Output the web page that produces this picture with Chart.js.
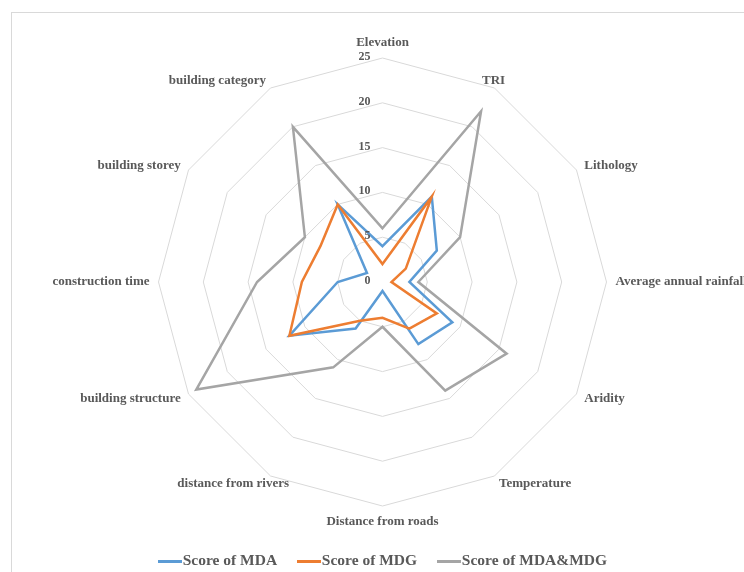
<!DOCTYPE html>
<html>
<head>
    <meta charset="UTF-8">
    <title>Score radar</title>
    <script src="https://cdn.jsdelivr.net/npm/chart.js"></script>
    <style>
        html, body { margin: 0; padding: 0; background: #fff; overflow: hidden; }
        .frame { position: absolute; left: 11px; top: 12px; width: 1000px; height: 1000px; border: 1px solid #d9d9d9; }
        .wrap { position: absolute; left: 0; top: 0; width: 772px; height: 579px; }
    </style>
</head>
<body>
    <div class="frame"></div>
    <div class="wrap"><canvas id="radar"></canvas></div>

    <script>
        // 指标名称
        const categories = ['Elevation', 'TRI', 'Lithology', 'Average annual rainfall', 'Aridity', 'Temperature',
            'Distance from roads', 'distance from rivers', 'building structure', 'construction time',
            'building storey', 'building category'];

        // 各指标得分
        const scoreMDA = [4, 11, 7, 3, 9, 8, 1, 6, 12, 5, 2, 10];
        const scoreMDG = [2, 11, 3, 1, 7, 6, 4, 5, 12, 9, 8, 10];
        const scoreBoth = [6, 22, 10, 4, 16, 14, 5, 11, 24, 14, 10, 20];

        // 径向刻度
        const tickValues = [0, 5, 10, 15, 20, 25];

        // 个别标签的水平微调(px)
        const labelShift = [0, -17, 0, 0, 0, 0, 0, 23, 0, 0, 0, 0];

        const textColor = '#595959';
        const serif = '"Liberation Serif", "Times New Roman", serif';

        // 图例用的线段图标
        function lineIcon(color) {
            const c = document.createElement('canvas');
            c.width = 24;
            c.height = 3;
            const g = c.getContext('2d');
            g.fillStyle = color;
            g.fillRect(0, 0, 24, 3);
            return c;
        }

        // 轴标签和刻度文字自己画，位置取自径向比例尺
        const axisText = {
            id: 'axisText',
            afterDraw(chart) {
                const r = chart.scales.r;
                const ctx = chart.ctx;
                ctx.save();
                ctx.fillStyle = textColor;

                ctx.font = 'bold 12px ' + serif;
                ctx.textAlign = 'right';
                ctx.textBaseline = 'middle';
                tickValues.forEach(v => {
                    const y = r.yCenter - r.getDistanceFromCenterForValue(v) - 1;
                    ctx.fillText(String(v), r.xCenter - 12, y);
                });

                ctx.font = 'bold 13px ' + serif;
                categories.forEach((text, i) => {
                    const p = r.getPointPosition(i, r.drawingArea + 9);
                    const cx = Math.cos(p.angle);
                    const cy = Math.sin(p.angle);
                    ctx.textAlign = Math.abs(cx) < 0.01 ? 'center' : (cx > 0 ? 'left' : 'right');
                    ctx.textBaseline = cy < -0.99 ? 'bottom' : (cy > 0.99 ? 'top' : 'middle');
                    ctx.fillText(text, p.x + labelShift[i], p.y);
                });
                ctx.restore();
            }
        };

        function makeSet(label, data, color, order) {
            return {
                label: label,
                data: data,
                borderColor: color,
                backgroundColor: color,
                borderWidth: 2.5,
                pointRadius: 0,
                pointStyle: lineIcon(color),
                fill: false,
                order: order
            };
        }

        new Chart(document.getElementById('radar'), {
            type: 'radar',
            data: {
                labels: categories,
                datasets: [
                    makeSet('Score of MDA', scoreMDA, '#5b9bd5', 3),
                    makeSet('Score of MDG', scoreMDG, '#ed7d31', 2),
                    makeSet('Score of MDA&MDG', scoreBoth, '#a5a5a5', 1)
                ]
            },
            options: {
                responsive: true,
                maintainAspectRatio: false,
                animation: false,
                plugins: {
                    tooltip: { enabled: false },
                    legend: {
                        position: 'bottom',
                        labels: {
                            usePointStyle: true,
                            pointStyleWidth: 10,
                            padding: 27,
                            color: textColor,
                            font: { family: serif, size: 15.5, weight: 'bold' },
                            sort: (a, b) => a.datasetIndex - b.datasetIndex
                        }
                    }
                },
                scales: {
                    r: {
                        min: 0,
                        max: 25,
                        ticks: { stepSize: 5, display: false },
                        grid: { color: '#d9d9d9', lineWidth: 1 },
                        angleLines: { display: false },
                        pointLabels: { display: false },
                        // 固定圆心和半径
                        afterFit: function(scale) {
                            scale.xCenter = 382.5;
                            scale.yCenter = 282;
                            scale.drawingArea = 224;
                        }
                    }
                }
            },
            plugins: [axisText]
        });
    </script>
</body>
</html>
